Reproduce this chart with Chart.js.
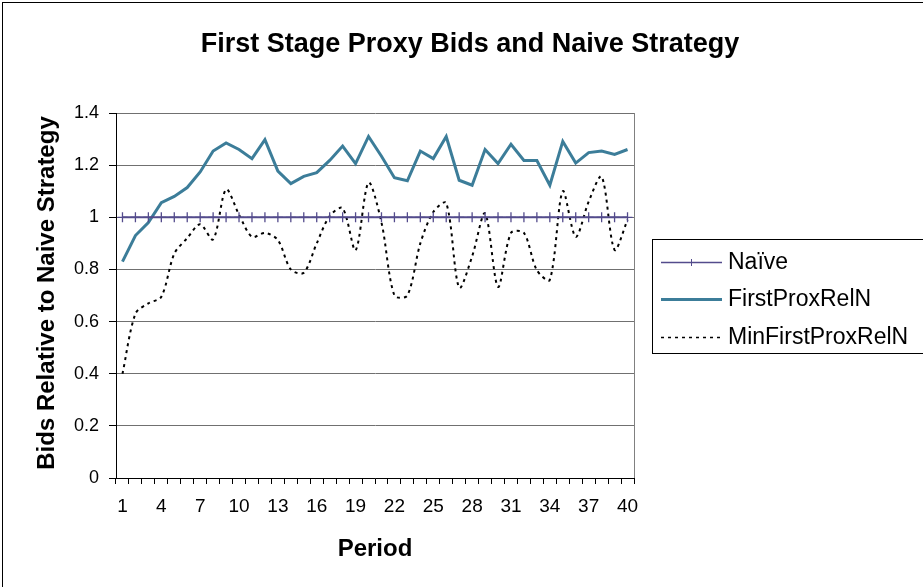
<!DOCTYPE html>
<html>
<head>
<meta charset="utf-8">
<script src="https://cdn.jsdelivr.net/npm/chart.js@4.4.1/dist/chart.umd.min.js"></script>
<style>
  html, body { margin: 0; padding: 0; background: #fff; }
  #wrap { width: 923px; height: 587px; }
</style>
</head>
<body>
<div id="wrap"><canvas id="proxyChart" width="923" height="587"></canvas></div>
<script>
const periods = Array.from({ length: 40 }, (_, i) => String(i + 1));

const naive = Array(40).fill(1);

const firstProxRelN = [
  0.83, 0.93, 0.98, 1.056, 1.08, 1.114, 1.174, 1.254, 1.285, 1.26,
  1.225, 1.298, 1.177, 1.129, 1.157, 1.171, 1.218, 1.273, 1.206, 1.31,
  1.234, 1.152, 1.14, 1.254, 1.225, 1.31, 1.142, 1.123, 1.26, 1.206,
  1.28, 1.218, 1.218, 1.123, 1.291, 1.208, 1.248, 1.254, 1.241, 1.26
];

const minFirstProxRelN = [
  0.40, 0.63, 0.67, 0.695, 0.86, 0.92, 0.973, 0.915, 1.107, 1.01,
  0.925, 0.94, 0.913, 0.80, 0.787, 0.90, 1.005, 1.035, 0.874, 1.133,
  0.98, 0.70, 0.70, 0.90, 1.02, 1.055, 0.73, 0.85, 1.015, 0.733,
  0.94, 0.94, 0.797, 0.76, 1.10, 0.925, 1.06, 1.156, 0.875, 0.99
];

const seriesNames = ["Na\u00efve", "FirstProxRelN", "MinFirstProxRelN"];
const seriesColors = ["#534b8c", "#3c7d99", "#000000"];

// title, axis titles, legend box and frame drawn by hand
const decorations = {
  id: "decorations",
  afterDraw(chart) {
    const ctx = chart.ctx;
    const area = chart.chartArea;
    ctx.save();

    // outer frame
    ctx.strokeStyle = "#000";
    ctx.lineWidth = 1;
    ctx.strokeRect(2.5, 2.5, 940, 600);

    // plot border on the right
    ctx.strokeStyle = "#808080";
    ctx.beginPath();
    ctx.moveTo(Math.round(area.right) + 0.5, area.top);
    ctx.lineTo(Math.round(area.right) + 0.5, area.bottom);
    ctx.stroke();

    ctx.fillStyle = "#000";
    ctx.textAlign = "center";
    ctx.textBaseline = "middle";

    ctx.font = "bold 27px Arial, 'Liberation Sans', sans-serif";
    ctx.fillText("First Stage Proxy Bids and Naive Strategy", 470, 45);

    ctx.font = "bold 24px Arial, 'Liberation Sans', sans-serif";
    ctx.fillText("Period", 375, 549);

    ctx.save();
    ctx.translate(47, 293);
    ctx.rotate(-Math.PI / 2);
    ctx.fillText("Bids Relative to Naive Strategy", 0, 0);
    ctx.restore();

    // legend
    ctx.strokeStyle = "#000";
    ctx.lineWidth = 1;
    ctx.strokeRect(652.5, 239.5, 300, 114);

    const rows = [262, 299, 337];
    ctx.font = "23px Arial, 'Liberation Sans', sans-serif";
    ctx.textAlign = "left";
    rows.forEach((y, i) => {
      ctx.beginPath();
      ctx.strokeStyle = seriesColors[i];
      if (i === 0) { ctx.lineWidth = 1.5; ctx.setLineDash([]); }
      if (i === 1) { ctx.lineWidth = 3; ctx.setLineDash([]); }
      if (i === 2) { ctx.lineWidth = 1.5; ctx.setLineDash([3, 4]); }
      ctx.moveTo(661, y + 0.5);
      ctx.lineTo(722, y + 0.5);
      ctx.stroke();
      ctx.setLineDash([]);
      if (i === 0) {
        ctx.beginPath();
        ctx.lineWidth = 1;
        ctx.moveTo(691.5, y - 3);
        ctx.lineTo(691.5, y + 4);
        ctx.stroke();
      }
      ctx.fillStyle = "#000";
      ctx.fillText(seriesNames[i], 728, y + 1);
    });

    ctx.restore();
  }
};

const ctx = document.getElementById("proxyChart").getContext("2d");

new Chart(ctx, {
  type: "line",
  data: {
    labels: periods,
    datasets: [
      {
        label: seriesNames[0],
        data: naive,
        borderColor: seriesColors[0],
        borderWidth: 2,
        pointStyle: "cross",
        pointRadius: 5,
        pointBorderWidth: 1.3,
        pointBorderColor: seriesColors[0],
        tension: 0
      },
      {
        label: seriesNames[1],
        data: firstProxRelN,
        borderColor: seriesColors[1],
        borderWidth: 3,
        pointRadius: 0,
        tension: 0
      },
      {
        label: seriesNames[2],
        data: minFirstProxRelN,
        borderColor: seriesColors[2],
        borderWidth: 2,
        borderDash: [3, 4],
        pointRadius: 0,
        tension: 0.3
      }
    ]
  },
  options: {
    responsive: false,
    animation: false,
    layout: { padding: { top: 113, right: 289, bottom: 0, left: 0 } },
    plugins: {
      legend: { display: false },
      title: { display: false },
      tooltip: { enabled: false }
    },
    scales: {
      x: {
        offset: true,
        afterFit(scale) { scale.height = 109; },
        grid: {
          offset: true,
          drawOnChartArea: false,
          drawTicks: true,
          tickLength: 6,
          tickColor: "#000"
        },
        border: { color: "#000", width: 1 },
        ticks: {
          autoSkip: false,
          maxRotation: 0,
          padding: 11,
          color: "#000",
          font: { family: "Arial, 'Liberation Sans', sans-serif", size: 19 },
          callback(value, index) {
            return index % 3 === 0 ? periods[index] : "";
          }
        }
      },
      y: {
        min: 0,
        max: 1.4,
        afterFit(scale) { scale.width = 116; },
        grid: {
          color: "#707070",
          lineWidth: 1,
          tickLength: 7,
          tickColor: "#000"
        },
        border: { color: "#000", width: 1 },
        ticks: {
          stepSize: 0.2,
          padding: 10,
          color: "#000",
          font: { family: "Arial, 'Liberation Sans', sans-serif", size: 18 },
          callback(value) {
            return String(Number(value.toFixed(1)));
          }
        }
      }
    }
  },
  plugins: [decorations]
});
</script>
</body>
</html>
